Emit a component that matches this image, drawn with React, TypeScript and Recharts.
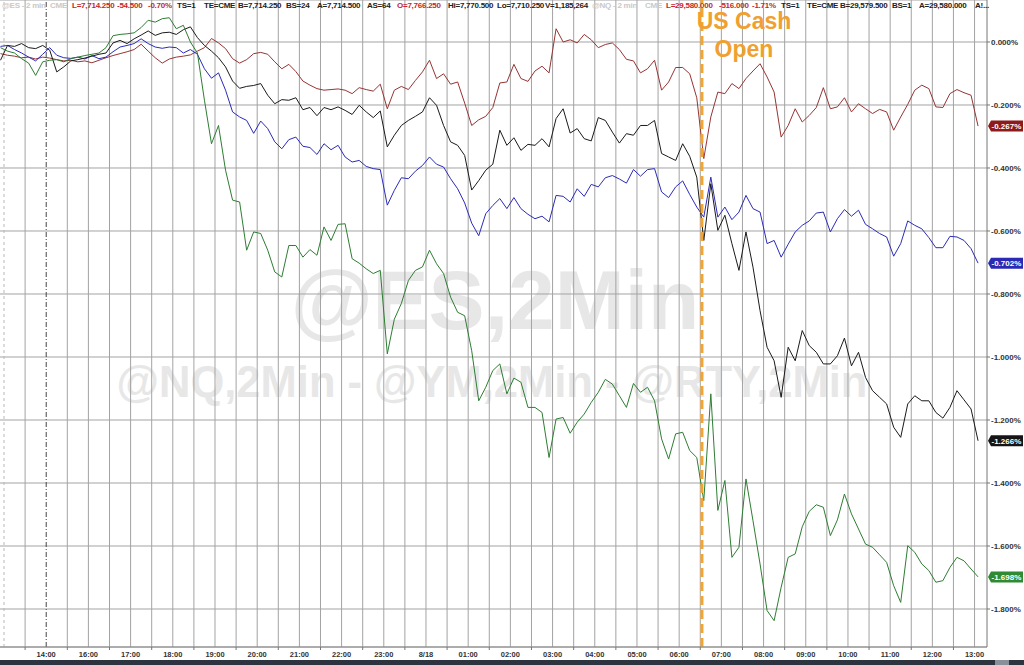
import React from 'react';
import { LineChart, Line, XAxis, YAxis, CartesianGrid, ReferenceLine } from 'recharts';

// YM (dark red), % change
const ymValues = [
  -0.037, -0.042, -0.045, -0.050, -0.048, -0.054, -0.048, -0.051, -0.056, -0.060,
  -0.058, -0.063, -0.060, -0.066, -0.058, -0.050, -0.043, -0.037, -0.031, -0.024,
  -0.007, -0.029, -0.050, -0.067, -0.054, -0.048, -0.045, -0.041, -0.029, -0.018,
  0.011, -0.003, -0.021, -0.053, -0.067, -0.056, -0.037, -0.033, -0.039, -0.063,
  -0.085, -0.071, -0.094, -0.124, -0.137, -0.148, -0.153, -0.151, -0.149, -0.153,
  -0.164, -0.145, -0.151, -0.156, -0.134, -0.212, -0.153, -0.141, -0.151, -0.122,
  -0.095, -0.058, -0.116, -0.101, -0.134, -0.127, -0.194, -0.265, -0.247, -0.236,
  -0.208, -0.130, -0.127, -0.071, -0.116, -0.125, -0.092, -0.077, -0.098, 0.042,
  0.000, 0.007, -0.003, 0.024, 0.007, -0.018, -0.008, -0.003, -0.024, -0.055,
  -0.060, -0.098, -0.085, -0.058, -0.153, -0.127, -0.081, -0.081, -0.101, -0.177,
  -0.370, -0.238, -0.159, -0.164, -0.132, -0.148, -0.116, -0.092, -0.069, -0.111,
  -0.159, -0.302, -0.265, -0.212, -0.254, -0.233, -0.208, -0.145, -0.212, -0.206,
  -0.177, -0.222, -0.196, -0.212, -0.227, -0.214, -0.222, -0.280, -0.238, -0.198,
  -0.153, -0.137, -0.148, -0.206, -0.208, -0.164, -0.151, -0.161, -0.169, -0.267,
];

// RTY (black)
const rtyValues = [
  -0.058, -0.011, -0.014, -0.005, -0.018, -0.021, -0.011, -0.026, -0.095, -0.079,
  -0.060, -0.056, -0.051, -0.045, -0.039, -0.035, -0.003, 0.005, -0.005, 0.010,
  0.022, 0.035, 0.021, 0.029, 0.031, 0.024, 0.039, 0.048, 0.014, -0.011,
  -0.029, -0.050, -0.079, -0.124, -0.147, -0.141, -0.138, -0.132, -0.169, -0.196,
  -0.183, -0.185, -0.177, -0.215, -0.208, -0.234, -0.208, -0.215, -0.206, -0.217,
  -0.230, -0.201, -0.222, -0.240, -0.219, -0.333, -0.296, -0.265, -0.249, -0.236,
  -0.222, -0.177, -0.201, -0.265, -0.317, -0.328, -0.360, -0.470, -0.440, -0.407,
  -0.388, -0.280, -0.328, -0.304, -0.344, -0.325, -0.328, -0.307, -0.333, -0.243,
  -0.212, -0.289, -0.275, -0.307, -0.314, -0.240, -0.249, -0.286, -0.321, -0.291,
  -0.296, -0.265, -0.265, -0.249, -0.354, -0.365, -0.376, -0.323, -0.363, -0.429,
  -0.630, -0.450, -0.598, -0.550, -0.640, -0.725, -0.603, -0.715, -0.853, -0.969,
  -1.012, -1.128, -0.969, -1.012, -0.916, -0.964, -0.985, -1.022, -1.022, -0.996,
  -0.940, -1.028, -0.985, -1.065, -1.107, -1.128, -1.149, -1.223, -1.255, -1.149,
  -1.123, -1.139, -1.139, -1.176, -1.194, -1.160, -1.107, -1.136, -1.165, -1.266,
];

// ES (blue)
const esValues = [
  -0.014, -0.011, -0.024, -0.035, -0.048, -0.060, -0.039, -0.018, -0.042, -0.050,
  -0.052, -0.048, -0.054, -0.043, -0.053, -0.048, -0.031, -0.016, -0.011, -0.005,
  0.010, -0.005, -0.016, -0.020, -0.016, -0.018, -0.035, -0.024, -0.039, -0.085,
  -0.115, -0.098, -0.153, -0.222, -0.238, -0.249, -0.290, -0.251, -0.275, -0.317,
  -0.339, -0.310, -0.302, -0.331, -0.335, -0.357, -0.323, -0.342, -0.328, -0.365,
  -0.381, -0.376, -0.395, -0.402, -0.405, -0.518, -0.471, -0.431, -0.434, -0.410,
  -0.392, -0.365, -0.388, -0.397, -0.434, -0.466, -0.511, -0.575, -0.615, -0.545,
  -0.519, -0.497, -0.529, -0.494, -0.529, -0.547, -0.561, -0.553, -0.571, -0.487,
  -0.490, -0.508, -0.466, -0.490, -0.452, -0.460, -0.431, -0.424, -0.435, -0.448,
  -0.405, -0.426, -0.405, -0.402, -0.476, -0.494, -0.460, -0.441, -0.484, -0.524,
  -0.556, -0.429, -0.556, -0.524, -0.564, -0.540, -0.487, -0.529, -0.540, -0.640,
  -0.630, -0.683, -0.642, -0.603, -0.582, -0.568, -0.543, -0.540, -0.603, -0.561,
  -0.532, -0.553, -0.534, -0.579, -0.593, -0.608, -0.619, -0.680, -0.640, -0.568,
  -0.582, -0.593, -0.621, -0.653, -0.653, -0.617, -0.619, -0.630, -0.656, -0.702,
];

// NQ (green)
const nqValues = [
  -0.018, -0.029, -0.035, -0.053, -0.067, -0.106, -0.063, -0.058, -0.056, -0.063,
  -0.053, -0.048, -0.043, -0.039, -0.035, -0.018, 0.020, 0.024, 0.026, 0.029,
  0.046, 0.069, 0.063, 0.074, 0.077, 0.042, 0.053, 0.000, -0.035, -0.185,
  -0.323, -0.265, -0.407, -0.502, -0.508, -0.661, -0.603, -0.608, -0.661, -0.730,
  -0.746, -0.646, -0.646, -0.683, -0.659, -0.677, -0.587, -0.630, -0.579, -0.577,
  -0.688, -0.702, -0.720, -0.735, -0.725, -0.990, -0.880, -0.830, -0.757, -0.725,
  -0.714, -0.661, -0.704, -0.735, -0.810, -0.858, -0.869, -0.980, -1.139, -1.096,
  -1.043, -1.022, -1.117, -1.067, -1.080, -1.160, -1.160, -1.176, -1.319, -1.197,
  -1.192, -1.242, -1.207, -1.181, -1.144, -1.112, -1.071, -1.086, -1.123, -1.160,
  -1.084, -1.112, -1.096, -1.139, -1.260, -1.324, -1.244, -1.239, -1.297, -1.319,
  -1.456, -1.117, -1.487, -1.392, -1.636, -1.604, -1.387, -1.520, -1.657, -1.805,
  -1.837, -1.731, -1.636, -1.625, -1.539, -1.490, -1.469, -1.477, -1.567, -1.517,
  -1.435, -1.498, -1.546, -1.594, -1.604, -1.628, -1.652, -1.726, -1.779, -1.599,
  -1.620, -1.657, -1.678, -1.715, -1.710, -1.668, -1.636, -1.647, -1.673, -1.698,
];

// x-axis labels, one per hour (every second half-hour slot, starting at slot 2)
const tickLabels = [
  '14:00', '16:00', '17:00', '18:00', '19:00', '20:00', '21:00', '22:00', '23:00', '8/18',
  '01:00', '02:00', '03:00', '04:00', '05:00', '06:00', '07:00', '08:00', '09:00', '10:00',
  '11:00', '12:00', '13:00',
];

const yTicks = [0, -0.2, -0.4, -0.6, -0.8, -1.0, -1.2, -1.4, -1.6, -1.8];

// time slot (half hours) of the US cash open and the session markers
const cashOpenSlot = 33.08;
const sessionSlots = [0, 2];

const data = ymValues.map((_, i) => ({
  t: (i - 0.5) / 3,
  ym: ymValues[i],
  rty: rtyValues[i],
  es: esValues[i],
  nq: nqValues[i],
}));

const FONT = '"Liberation Sans", Arial, sans-serif';

const xTickSlots = Array.from({ length: 46 }, (_, k) => k + 1);
const gridSlots = xTickSlots.filter((s) => s !== 2);

const XTick = (props: any) => {
  const { x, y, payload } = props;
  const v = Math.round(payload.value);
  if (v >= 2 && v % 2 === 0) {
    return (
      <text x={x} y={y + 10} textAnchor="middle" fontSize={7.5} fontWeight={700} fill="#333" fontFamily={FONT}>
        {tickLabels[(v - 2) / 2]}
      </text>
    );
  }
  return <line x1={x} x2={x} y1={y} y2={y + 3} stroke="#777" strokeWidth={1} />;
};

const ValueTag = (props: any) => {
  const { viewBox, text, bg } = props;
  if (!viewBox) return null;
  const x = viewBox.x + viewBox.width + 1;
  const y = viewBox.y;
  const pts = `${x},${y} ${x + 3},${y - 5.5} ${x + 35},${y - 5.5} ${x + 35},${y + 5.5} ${x + 3},${y + 5.5}`;
  return (
    <g>
      <polygon points={pts} fill={bg} />
      <text x={x + 3.5} y={y + 3} fontSize={8} fontWeight={700} fill="#fff" fontFamily={FONT}>
        {text}
      </text>
    </g>
  );
};

const fmtPct = (v: number) => `${v.toFixed(3)}%`;

const headerItems: { text: string; left: number; color: string }[] = [
  { text: '@ES - 2 min', left: 2, color: '#c9c9c9' },
  { text: 'CME', left: 50, color: '#c9c9c9' },
  { text: 'L=7,714.250', left: 72, color: '#c8262b' },
  { text: '-54.500', left: 117, color: '#c8262b' },
  { text: '-0.70%', left: 148, color: '#c8262b' },
  { text: 'TS=1', left: 177, color: '#222' },
  { text: 'TE=CME', left: 204, color: '#222' },
  { text: 'B=7,714.250', left: 238, color: '#222' },
  { text: 'BS=24', left: 286, color: '#222' },
  { text: 'A=7,714.500', left: 317, color: '#222' },
  { text: 'AS=64', left: 367, color: '#222' },
  { text: 'O=7,766.250', left: 397, color: '#c8262b' },
  { text: 'Hi=7,770.500', left: 448, color: '#222' },
  { text: 'Lo=7,710.250', left: 497, color: '#222' },
  { text: 'V=1,185,264', left: 545, color: '#222' },
  { text: '@NQ - 2 min', left: 592, color: '#c9c9c9' },
  { text: 'CME', left: 645, color: '#c9c9c9' },
  { text: 'L=29,580.000', left: 666, color: '#c8262b' },
  { text: '-516.000', left: 719, color: '#c8262b' },
  { text: '-1.71%', left: 752, color: '#c8262b' },
  { text: 'TS=1', left: 781, color: '#222' },
  { text: 'TE=CME', left: 807, color: '#222' },
  { text: 'B=29,579.500', left: 840, color: '#222' },
  { text: 'BS=1', left: 892, color: '#222' },
  { text: 'A=29,580.000', left: 919, color: '#222' },
  { text: 'A!...', left: 975, color: '#222' },
];

const series = [
  { key: 'ym', color: '#963434', tag: '#8e1b1b', values: ymValues },
  { key: 'es', color: '#2b2bb8', tag: '#2a2ab4', values: esValues },
  { key: 'rty', color: '#1a1a1a', tag: '#151515', values: rtyValues },
  { key: 'nq', color: '#2e7d32', tag: '#2f8a33', values: nqValues },
];

export default function App() {
  return (
    <div style={{ position: 'absolute', left: 0, top: 0, width: 1024, height: 665, background: '#fff', overflow: 'hidden', fontFamily: FONT }}>
      {/* watermarks */}
      <div style={{ position: 'absolute', left: 0, width: 990, top: 252, textAlign: 'center', fontSize: 84, fontWeight: 700, color: '#e7e7e7', lineHeight: '96px', whiteSpace: 'nowrap' }}>
        @ES,2Min
      </div>
      <div style={{ position: 'absolute', left: 0, width: 984, top: 357, textAlign: 'center', fontSize: 43.5, fontWeight: 700, color: '#e7e7e7', lineHeight: '50px', whiteSpace: 'nowrap' }}>
        @NQ,2Min - @YM,2Min - @RTY,2Min
      </div>

      <div style={{ position: 'absolute', left: 0, top: 0, zIndex: 1 }}>
        <LineChart width={1024} height={660} data={data} margin={{ top: 0, right: 0, bottom: 0, left: 0 }}>
          <CartesianGrid stroke="#a3a3a3" strokeWidth={1} verticalValues={gridSlots} />
          <XAxis
            type="number"
            dataKey="t"
            domain={[-0.19, 46.59]}
            allowDataOverflow
            ticks={xTickSlots}
            interval={0}
            tick={<XTick />}
            tickLine={false}
            tickSize={0}
            tickMargin={0}
            height={13}
            axisLine={{ stroke: '#888' }}
          />
          <YAxis
            orientation="right"
            domain={[-1.9206, 0.1333]}
            allowDataOverflow
            ticks={yTicks}
            interval={0}
            width={37}
            tickSize={3}
            tickMargin={1}
            tickFormatter={fmtPct}
            tick={{ fontSize: 8, fontWeight: 700, fill: '#333', fontFamily: FONT, textAnchor: 'start' }}
            axisLine={{ stroke: '#777' }}
            tickLine={{ stroke: '#777' }}
          />
          <ReferenceLine x={sessionSlots[0]} stroke="#b8b8b8" strokeDasharray="3 3" />
          <ReferenceLine x={sessionSlots[1]} stroke="#444" strokeDasharray="5 2 1 2" />
          {series.map((s) => (
            <Line
              key={s.key}
              type="linear"
              dataKey={s.key}
              stroke={s.color}
              strokeWidth={1}
              dot={false}
              activeDot={false}
              isAnimationActive={false}
            />
          ))}
          <ReferenceLine x={cashOpenSlot} stroke="#f3a534" strokeWidth={3} strokeDasharray="9 5" />
          {series.map((s) => {
            const last = s.values[s.values.length - 1];
            return (
              <ReferenceLine
                key={`tag-${s.key}`}
                y={last}
                stroke="none"
                label={<ValueTag text={fmtPct(last)} bg={s.tag} />}
              />
            );
          })}
        </LineChart>
      </div>

      {/* header line */}
      <div style={{ position: 'absolute', left: 0, top: 0, width: 1024, height: 11, zIndex: 2 }}>
        {headerItems.map((h, k) => (
          <span
            key={k}
            style={{ position: 'absolute', left: h.left, top: 1, fontSize: 8, lineHeight: '9px', fontWeight: 700, color: h.color, whiteSpace: 'nowrap', letterSpacing: '-0.25px' }}
          >
            {h.text}
          </span>
        ))}
      </div>

      {/* US Cash Open annotation */}
      <div style={{ position: 'absolute', left: 664, width: 160, top: 12, zIndex: 2, textAlign: 'center', color: '#f0a030', fontSize: 23, fontWeight: 700, lineHeight: '18px', whiteSpace: 'nowrap' }}>
        US Cash
      </div>
      <div style={{ position: 'absolute', left: 664, width: 160, top: 40, zIndex: 2, textAlign: 'center', color: '#f0a030', fontSize: 23, fontWeight: 700, lineHeight: '18px', whiteSpace: 'nowrap' }}>
        Open
      </div>

      {/* bottom band */}
      <div style={{ position: 'absolute', left: 0, top: 660, width: 1024, height: 5, background: '#2d3440' }} />
      <div style={{ position: 'absolute', left: 995, top: 660, width: 14, height: 5, background: '#8a9099' }} />
    </div>
  );
}
